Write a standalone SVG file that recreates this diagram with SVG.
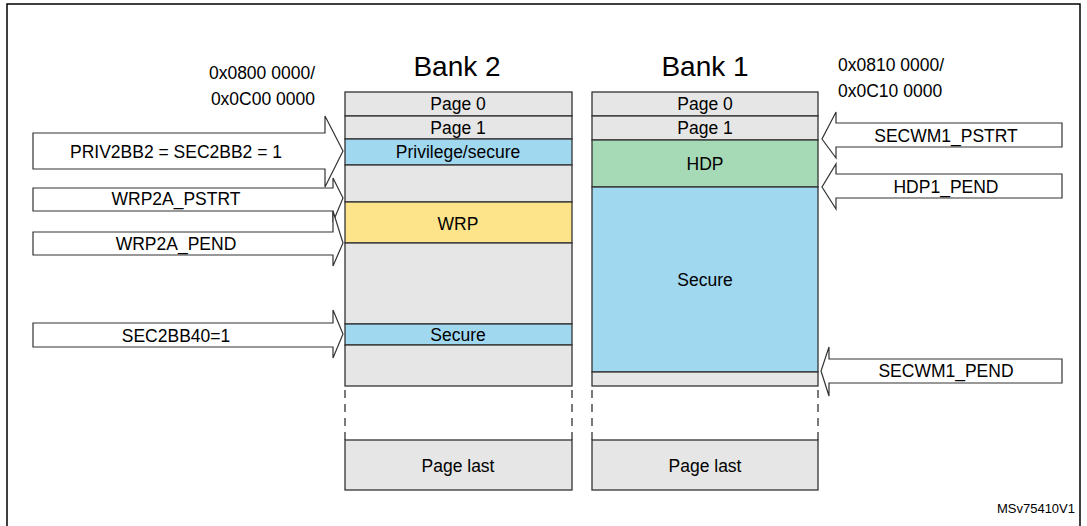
<svg xmlns="http://www.w3.org/2000/svg" width="1087" height="526" viewBox="0 0 1087 526">
<style>
text{font-family:"Liberation Sans",Arial,sans-serif;fill:#000}
.c{stroke:#333;stroke-width:1.3}
.g{fill:#e6e6e6}.b{fill:#a0d8f0}.y{fill:#fde48a}.h{fill:#a6d9b6}
.t{font-size:17.5px;text-anchor:middle}
.a{fill:#fff;stroke:#333;stroke-width:1.2}
.d{stroke:#333;stroke-width:1.3;stroke-dasharray:8,6;fill:none}
</style>
<rect x="7" y="4" width="1073" height="540" fill="#fff" stroke="#000" stroke-width="1.5"/>
<text x="457" y="76" font-size="28" text-anchor="middle">Bank 2</text>
<text x="705" y="76" font-size="28" text-anchor="middle">Bank 1</text>
<text x="315" y="79" font-size="17.5" text-anchor="end">0x0800 0000/</text>
<text x="315" y="105" font-size="17.5" text-anchor="end">0x0C00 0000</text>
<text x="838" y="71" font-size="17.5">0x0810 0000/</text>
<text x="838" y="97" font-size="17.5">0x0C10 0000</text>
<g id="bank2">
<rect class="c g" x="345" y="92" width="227" height="24"/><text class="t" x="458" y="110">Page 0</text>
<rect class="c g" x="345" y="116" width="227" height="23"/><text class="t" x="458" y="134">Page 1</text>
<rect class="c b" x="345" y="139" width="227" height="26"/><text class="t" x="458" y="158">Privilege/secure</text>
<rect class="c g" x="345" y="165" width="227" height="37"/>
<rect class="c y" x="345" y="202" width="227" height="41"/><text class="t" x="458" y="230">WRP</text>
<rect class="c g" x="345" y="243" width="227" height="81"/>
<rect class="c b" x="345" y="324" width="227" height="21"/><text class="t" x="458" y="341">Secure</text>
<rect class="c g" x="345" y="345" width="227" height="41"/>
<line class="d" x1="345" y1="390" x2="345" y2="440"/><line class="d" x1="572" y1="390" x2="572" y2="440"/>
<rect class="c g" x="345" y="440" width="227" height="50"/><text class="t" x="458" y="472">Page last</text>
</g>
<g id="bank1">
<rect class="c g" x="592" y="92" width="226" height="24"/><text class="t" x="705" y="110">Page 0</text>
<rect class="c g" x="592" y="116" width="226" height="24"/><text class="t" x="705" y="134">Page 1</text>
<rect class="c h" x="592" y="140" width="226" height="47"/><text class="t" x="705" y="170">HDP</text>
<rect class="c b" x="592" y="187" width="226" height="185"/><text class="t" x="705" y="286">Secure</text>
<rect class="c g" x="592" y="372" width="226" height="14"/>
<line class="d" x1="592" y1="390" x2="592" y2="440"/><line class="d" x1="818" y1="390" x2="818" y2="440"/>
<rect class="c g" x="592" y="440" width="226" height="50"/><text class="t" x="705" y="472">Page last</text>
</g>
<g id="connectors">
<g id="a1"><path class="a" d="M33,133H325V116L343,151L325,187V169H33Z"/><text class="t" x="176" y="158">PRIV2BB2 = SEC2BB2 = 1</text></g>
<g id="a2"><path class="a" d="M33,188H333V178L343,198L333,222V211H33Z"/><text class="t" x="176" y="205">WRP2A_PSTRT</text></g>
<g id="a3"><path class="a" d="M33,232H333V211L343,243L333,266V255H33Z"/><text class="t" x="176" y="250">WRP2A_PEND</text></g>
<g id="a4"><path class="a" d="M33,323H333V310L343,334L333,358V347H33Z"/><text class="t" x="176" y="342">SEC2BB40=1</text></g>
<g id="a5"><path class="a" d="M1062,123H836V112L822,139L836,158V147H1062Z"/><text class="t" x="946" y="142">SECWM1_PSTRT</text></g>
<g id="a6"><path class="a" d="M1062,174H836V164L822,187L836,209V198H1062Z"/><text class="t" x="946" y="193">HDP1_PEND</text></g>
<g id="a7"><path class="a" d="M1062,359H829V347L821,371L829,396V383H1062Z"/><text class="t" x="946" y="377">SECWM1_PEND</text></g>
</g>
<text x="1075" y="513" font-size="13" text-anchor="end">MSv75410V1</text>
</svg>
